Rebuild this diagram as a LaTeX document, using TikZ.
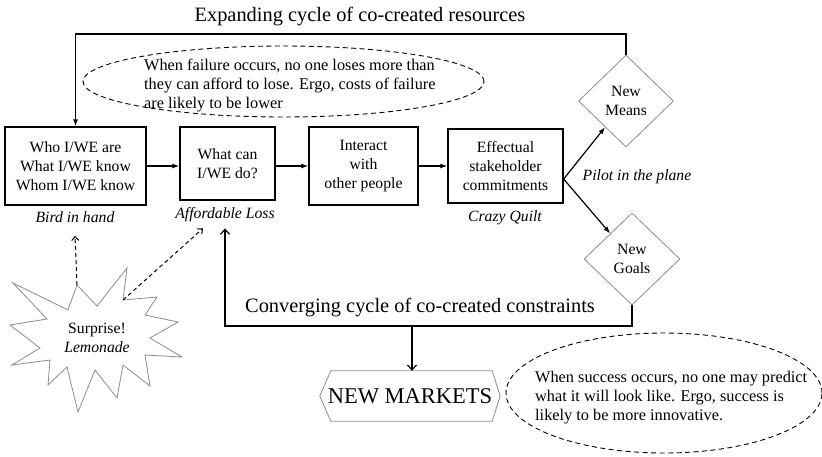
\documentclass[tikz,border=0pt]{standalone}
\usepackage{fontspec}
\setmainfont{Liberation Serif}
\usetikzlibrary{shapes.geometric,arrows.meta,calc}
\begin{document}
\begin{tikzpicture}[x=1pt,y=-1pt,
  txt/.style={font=\fontsize{15.7}{19}\selectfont, align=center, inner sep=0pt},
  notetxt/.style={font=\fontsize{16.3}{19}\selectfont, align=left, inner sep=0pt},
  lab/.style={font=\fontsize{15.7}{19}\selectfont\itshape, align=center, inner sep=0pt},
  cycletitle/.style={font=\fontsize{20.4}{24}\selectfont, inner sep=0pt},
  stepbox/.style={txt, draw, line width=1.3pt},
  choice/.style={txt, diamond, draw=black!45, line width=0.8pt, inner sep=0pt},
  note/.style={ellipse, draw, line width=0.9pt, dash pattern=on 5pt off 3.5pt, inner sep=0pt},
  flow/.style={line width=1.2pt, -{Latex[length=7pt,width=5pt]}},
  openflow/.style={line width=1.2pt, -{Straight Barb[length=5pt,width=9pt]}},
  hint/.style={line width=1pt, dash pattern=on 4pt off 3pt, -{Straight Barb[length=4pt,width=7pt]}}]

\useasboundingbox (0,0) rectangle (822,456);

% titles of the two cycles
\node[cycletitle] (exptitle) at (360,17) {Expanding cycle of co-created resources};
\node[cycletitle] (convtitle) at (420,308) {Converging cycle of co-created constraints};

% main process steps
\node[stepbox, minimum width=141pt, minimum height=78pt] (who) at (75.5,166)
  {Who I/WE are\\What I/WE know\\Whom I/WE know};
\node[stepbox, minimum width=95pt, minimum height=73pt] (what) at (227.5,163.5)
  {What can\\I/WE do?};
\node[stepbox, minimum width=109pt, minimum height=78pt] (interact) at (363.5,166)
  {Interact\\with\\other people};
\node[stepbox, minimum width=115pt, minimum height=74pt] (commit) at (505.5,166)
  {Effectual\\stakeholder\\commitments};

% principle labels
\node[lab] (bird) at (75,217) {Bird in hand};
\node[lab] (afford) at (225,215) {Affordable Loss};
\node[lab] (quilt) at (505,218) {Crazy Quilt};
\node[lab] (pilot) at (637,177) {Pilot in the plane};

% outcomes
\node[choice, minimum width=95pt, minimum height=92pt] (means) at (626,101) {New\\Means};
\node[choice, minimum width=96pt, minimum height=92pt] (goals) at (632,259) {New\\Goals};

% notes
\node[note, minimum width=401pt, minimum height=71pt] (failnote) at (283.5,81.5) {};
\node[notetxt, anchor=west] (failtext) at (144,86)
  {When failure occurs, no one loses more than\\they can afford to lose. Ergo, costs of failure\\are likely to be lower};
\node[note, minimum width=316pt, minimum height=120pt] (succnote) at (664,393) {};
\node[notetxt, anchor=west] (succtext) at (535,398)
  {When success occurs, no one may predict\\what it will look like. Ergo, success is\\likely to be more innovative.};

% new markets
\node[font=\fontsize{22.5}{26}\selectfont, minimum width=180pt, minimum height=50pt, inner sep=0pt]
  (markets) at (410,396) {NEW MARKETS};
\draw[black!45, line width=0.8pt]
  (markets.west) -- ([xshift=11pt]markets.north west) -- ([xshift=-8pt]markets.north east)
  -- (markets.east) -- ([xshift=-8pt]markets.south east) -- ([xshift=11pt]markets.south west) -- cycle;

% surprise starburst
\draw[black!45, line width=0.8pt]
  (13,283) -- (68,310) -- (77,285) coordinate (spikeA) -- (97,306) -- (127,268)
  -- (123,300) coordinate (spikeB) -- (157,297) -- (145,315) -- (178,322) -- (150,338)
  -- (182,357) -- (145,355) -- (150,386) -- (123,365) -- (117,398) -- (95,370)
  -- (78,412) -- (67,367) -- (48,385) -- (50,360) -- (12,365) -- (40,348)
  -- (10,325) -- (47,319) -- cycle;
\node[txt] (surprise) at (97,338) {Surprise!\\\textit{Lemonade}};

% flow between steps
\draw[flow] (who.east) -- (what.west |- who.east);
\draw[flow] (what.east |- who.east) -- (interact.west);
\draw[flow] (interact.east) -- (commit.west |- interact.east);
\coordinate (split) at ([yshift=-13pt]commit.east);
\draw[flow] (split) -- (means);
\draw[flow] (split) -- (goals);

% expanding cycle
\coordinate (topy) at (0,34);
\draw[flow] (means.north) |- (who.north |- topy) -- (who.north);

% converging cycle
\coordinate (convy) at (0,326);
\draw[openflow] (goals.south) |- (afford.south |- convy) -- ([yshift=-6pt]afford.south);
\draw[openflow] ([xshift=2pt]markets.north |- convy) -- ([xshift=2pt]markets.north);

% surprise feeds back
\draw[hint] (spikeA) -- ([yshift=-13pt]bird.south);
\draw[hint] (spikeB) -- ([xshift=-22pt,yshift=-6pt]afford.south);
\end{tikzpicture}
\end{document}
